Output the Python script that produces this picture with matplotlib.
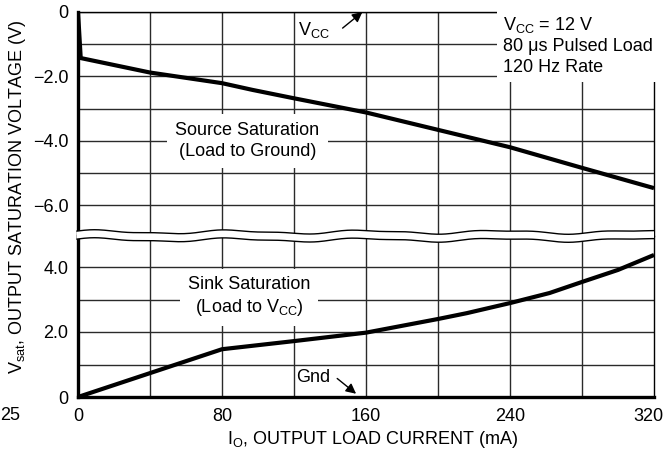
import numpy as np
import matplotlib
matplotlib.use("Agg")
import matplotlib.pyplot as plt
from matplotlib.transforms import ScaledTranslation

plt.rcParams['font.family'] = ['Liberation Sans', 'DejaVu Sans']
plt.rcParams['mathtext.fontset'] = 'custom'
plt.rcParams['mathtext.rm'] = 'Liberation Sans'
plt.rcParams['mathtext.it'] = 'Liberation Sans'

# data
source_x = [0, 1.5, 40, 80, 97, 120, 160, 200, 240, 280, 320]
source_y = [0, -1.43, -1.88, -2.21, -2.42, -2.68, -3.12, -3.66, -4.2, -4.84, -5.47]
sink_x = [0, 80, 120, 160, 200, 216, 240, 262, 280, 300, 320]
sink_y = [0, 1.47, 1.72, 1.98, 2.4, 2.58, 2.89, 3.2, 3.54, 3.91, 4.37]

x_ticks = [0, 80, 160, 240, 320]
x_grid = np.arange(0, 321, 40)
top_ticks = [0, -2, -4, -6]
top_labels = ['0', '\u22122.0', '\u22124.0', '\u22126.0']
top_grid = np.arange(-6, 0.5, 1)
bot_ticks = [0, 2, 4]
bot_labels = ['0', '2.0', '4.0']
bot_grid = np.arange(0, 4.5, 1)

W, H = 667, 453
fig = plt.figure(figsize=(W / 100, H / 100), dpi=100)

def fx(px):
    return px / W

def fy(py):
    return 1 - py / H

left, right = 78, 654
ax_top = fig.add_axes([fx(left), fy(236), fx(right - left), fy(12) - fy(236)])
ax_bot = fig.add_axes([fx(left), fy(397), fx(right - left), fy(236) - fy(397)])

ax_top.set_ylim(-224 / 32.2, 0)
ax_bot.set_ylim(0, 4 + 31 / 32.5)

fs = 13
gc = '#2a2a2a'
for ax, grid, ticks, labels in [(ax_top, top_grid, top_ticks, top_labels),
                                (ax_bot, bot_grid, bot_ticks, bot_labels)]:
    ax.set_xlim(0, 320)
    for g in x_grid[1:-1]:
        ax.axvline(g, color=gc, lw=1.0, zorder=1)
    for g in grid:
        ax.axhline(g, color=gc, lw=1.0, zorder=1)
    ax.set_yticks(ticks)
    ax.set_yticklabels(labels, fontsize=fs)
    ax.tick_params(length=0, pad=7)
    ax.spines['left'].set_linewidth(2.4)
    ax.spines['right'].set_linewidth(1.0)
    ax.spines['top'].set_linewidth(1.0)
    ax.spines['bottom'].set_linewidth(2.4)

ax_top.spines['bottom'].set_visible(False)
ax_top.set_xticks([])
ax_bot.spines['top'].set_visible(False)
ax_bot.set_xticks(x_ticks)
ax_bot.set_xticklabels([str(v) for v in x_ticks], fontsize=fs)
ax_bot.tick_params(axis='x', pad=8)
last = ax_bot.get_xticklabels()[-1]
last.set_transform(last.get_transform() + ScaledTranslation(-4 / 72, 0, fig.dpi_scale_trans))

ax_top.plot(source_x, source_y, color='black', lw=3, zorder=4, solid_capstyle='butt')
ax_bot.plot(sink_x, sink_y, color='black', lw=3, zorder=4, solid_capstyle='butt')

box = dict(facecolor='white', edgecolor='none', pad=6)
ax_top.text(94, -4.0, 'Source Saturation\n(Load to Ground)', fontsize=fs, ha='center',
            va='center', linespacing=1.3, bbox=box, zorder=3)
ax_bot.text(95, 3.08, 'Sink Saturation\n(Load to V$_{\\rm CC}$)', fontsize=fs, ha='center',
            va='center', linespacing=1.3, bbox=box, zorder=3)
ax_top.text(236, -0.08, 'V$_{\\rm CC}$ = 12 V\n80 \u03bcs Pulsed Load\n120 Hz Rate', fontsize=fs,
            ha='left', va='top', linespacing=1.3,
            bbox=dict(facecolor='white', edgecolor='none', pad=4), zorder=3)

ax_top.text(122, -0.55, 'V$_{\\rm CC}$', fontsize=fs, ha='left', va='center', zorder=3)
ax_top.annotate('', xy=(158, 0), xytext=(147, -0.5),
                arrowprops=dict(arrowstyle='-|>', color='black', lw=1.0,
                                mutation_scale=15, shrinkA=0, shrinkB=0), zorder=5)
ax_bot.text(121, 0.6, 'Gnd', fontsize=fs, ha='left', va='center', zorder=3)
ax_bot.annotate('', xy=(154.5, 0.1), xytext=(144, 0.57),
                arrowprops=dict(arrowstyle='-|>', color='black', lw=1.0,
                                mutation_scale=15, shrinkA=0, shrinkB=0), zorder=5)

# axis break: two wavy lines with white between them
wx = np.linspace(fx(left - 1), fx(right), 400)
t = np.linspace(0, 1, 400)
wave = (1.6 * np.sin(2 * np.pi * 4.3 * t + 0.6) + 0.7 * np.sin(2 * np.pi * 9.1 * t)) / H
up = fy(232) + wave
lo = fy(240) + wave
fig.patches.append(plt.Polygon(np.column_stack([np.r_[wx, wx[::-1]], np.r_[up, lo[::-1]]]),
                               closed=True, facecolor='white', edgecolor='none',
                               transform=fig.transFigure, zorder=10))
fig.lines.append(plt.Line2D(wx, up, color='black', lw=1.0, transform=fig.transFigure, zorder=11))
fig.lines.append(plt.Line2D(wx, lo, color='black', lw=1.0, transform=fig.transFigure, zorder=11))

fig.text(fx(18), fy(197), 'V$_{\\rm sat}$, OUTPUT SATURATION VOLTAGE (V)', rotation=90,
         fontsize=fs, ha='center', va='center')
fig.text(fx(373), fy(440), 'I$_{\\rm O}$, OUTPUT LOAD CURRENT (mA)', fontsize=fs,
         ha='center', va='center')
fig.text(fx(0), fy(415), '25', fontsize=fs, ha='left', va='center')

fig.savefig('out.png', dpi=100)
